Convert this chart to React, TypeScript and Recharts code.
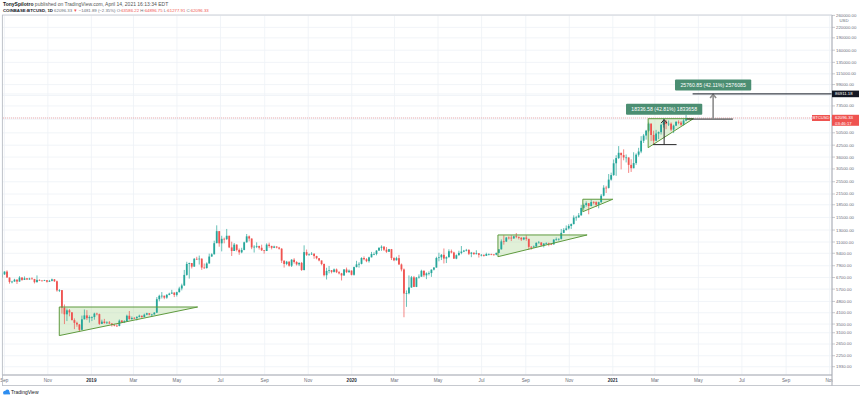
import React from 'react';
import { ComposedChart, Bar, Area, XAxis, YAxis, CartesianGrid, ReferenceLine, ReferenceDot } from 'recharts';

const DAY = 86400000;
const START = Date.UTC(2018, 7, 27);
const PERIOD_DAYS = 3.5;
const FIRST_OPEN = 6700;

// half-week candles: [high, low, close]; open = previous close
const candles2018 = [
  [7130, 6700, 7000], [7300, 6950, 7280],
  [7410, 6680, 6700], [6560, 6150, 6300],
  [6400, 6180, 6330], [6580, 6380, 6500],
  [6540, 6120, 6330], [6830, 6320, 6700],
  [6720, 6400, 6480], [6800, 6470, 6630],
  [6640, 6470, 6520], [6680, 6490, 6610],
  [6720, 6520, 6560], [6580, 6170, 6280],
  [6900, 6250, 6480], [6530, 6380, 6420],
  [6460, 6370, 6410], [6490, 6380, 6450],
  [6460, 6240, 6320], [6480, 6300, 6400],
  [6600, 6350, 6530], [6560, 6300, 6360],
  [6420, 5500, 5600], [5700, 5470, 5620],
  [5620, 4050, 4400], [4600, 3500, 4010],
  [4350, 3650, 4240], [4320, 3900, 4120],
  [4140, 3680, 3700], [3790, 3260, 3560],
  [3620, 3370, 3480], [3500, 3150, 3230],
  [3940, 3220, 3740], [4290, 3760, 3950],
  [4250, 3700, 3800], [3950, 3570, 3860],
  [3900, 3650, 3860], [4100, 3720, 4050],
];
const candles2019 = [
  [4100, 3950, 4020], [4050, 3460, 3510],
  [3720, 3500, 3620], [3760, 3520, 3550],
  [3640, 3500, 3580], [3650, 3500, 3530],
  [3540, 3380, 3450], [3510, 3390, 3420],
  [3490, 3370, 3410], [3730, 3390, 3670],
  [3700, 3550, 3590], [3690, 3550, 3640],
  [3990, 3640, 3930], [4200, 3720, 3750],
  [3890, 3720, 3810], [3860, 3760, 3800],
  [3900, 3680, 3870], [3990, 3840, 3930],
  [3940, 3820, 3860], [4050, 3850, 3990],
  [4100, 3960, 4070], [4070, 3950, 3990],
  [4040, 3860, 4000], [4140, 4000, 4100],
  [5100, 4100, 4950], [5270, 4810, 5190],
  [5470, 5000, 5200], [5200, 4950, 5060],
  [5320, 4980, 5260], [5420, 5230, 5350],
  [5640, 5350, 5430], [5450, 5100, 5260],
  [5500, 5140, 5460], [5890, 5440, 5750],
  [6150, 5600, 6000], [7450, 5950, 6950],
  [8350, 6870, 8100], [8250, 6600, 8200],
  [8100, 7600, 7800], [8800, 7850, 8700],
  [8950, 8550, 8670], [9100, 8030, 8720],
  [8750, 7460, 7700], [8150, 7570, 7650],
  [8280, 7580, 8150], [9350, 8180, 8980],
  [9400, 8950, 9260], [11200, 9500, 10820],
  [13880, 10900, 12800], [12500, 10300, 10800],
  [12000, 9650, 11500], [11700, 10800, 11450],
  [13200, 11300, 12000], [11950, 10100, 10200],
  [11050, 9050, 9700], [10850, 9800, 10600],
  [10650, 9650, 9850], [10050, 9200, 9520],
  [10150, 9400, 9850], [11050, 9800, 10950],
  [12300, 10900, 11900], [12050, 11100, 11550],
  [11550, 9950, 10200], [10520, 9500, 10300],
  [10950, 10100, 10400], [10450, 9900, 10150],
  [10600, 9700, 9800], [9800, 9350, 9700],
  [10800, 9750, 10600], [10900, 10150, 10400],
  [10450, 9920, 10150], [10450, 10100, 10330],
  [10360, 10070, 10180], [10280, 9900, 10020],
  [10100, 8200, 8480], [8500, 7700, 8100],
  [8450, 7960, 8360], [8400, 7800, 7900],
  [8660, 7760, 8590], [8780, 8140, 8320],
  [8420, 7920, 8050], [8280, 7860, 8220],
  [8330, 7350, 7440], [10500, 7400, 9550],
  [9900, 9050, 9200], [9380, 9080, 9250],
  [9550, 9180, 9340], [9400, 8700, 9040],
  [9080, 8640, 8770], [8780, 8400, 8500],
  [8500, 7950, 8090], [8150, 6800, 6920],
  [7680, 6520, 7350], [7870, 7100, 7420],
  [7430, 7100, 7250], [7600, 7180, 7500],
  [7600, 7130, 7220], [7330, 7000, 7100],
  [7150, 6430, 6900], [7530, 6850, 7500],
  [7700, 7130, 7220], [7500, 7150, 7380],
  [7400, 6900, 6960], [7800, 6880, 7750],
];
const candles2020 = [
  [8460, 7720, 8050], [8290, 7690, 8110],
  [8890, 8050, 8800], [9000, 8520, 8650],
  [8780, 8300, 8420], [8960, 8250, 8880],
  [9580, 8880, 9300], [9520, 9150, 9300],
  [9800, 9130, 9760], [10200, 9720, 10150],
  [10500, 9730, 10300], [10400, 9700, 9880],
  [10250, 9450, 9600], [9990, 9570, 9950],
  [9980, 8550, 8790], [8900, 8420, 8520],
  [8950, 8500, 8780], [9190, 8000, 8040],
  [8150, 7300, 7500], [7600, 3850, 5360],
  [5600, 4450, 5380], [6900, 5300, 5830],
  [6850, 5800, 6720], [6850, 5860, 5880],
  [6750, 5860, 6700], [7000, 6600, 6780],
  [7470, 6780, 7360], [7400, 6750, 6910],
  [7200, 6550, 7100], [7300, 6900, 7130],
  [7500, 6760, 7480], [7750, 7400, 7700],
  [8950, 7700, 8800], [9470, 8400, 8880],
  [9300, 8550, 9200], [10050, 8150, 8730],
  [9000, 8200, 8900], [9930, 8850, 9670],
  [9900, 9380, 9500], [9600, 8700, 8720],
  [9250, 8650, 9150], [9740, 9100, 9450],
  [10400, 9270, 9620], [9850, 9550, 9750],
  [9990, 9650, 9850], [9950, 9170, 9330],
  [9580, 8900, 9480], [9480, 9200, 9290],
  [9800, 9250, 9400], [9420, 8850, 9190],
  [9300, 9000, 9200], [9220, 8970, 9070],
  [9470, 9050, 9300], [9380, 9120, 9300],
  [9350, 9150, 9250], [9280, 9080, 9210],
  [9480, 9130, 9450], [9960, 9420, 9930],
  [11400, 9900, 11100], [12100, 10600, 11070],
  [11800, 11000, 11700], [11900, 11400, 11690],
  [12080, 11150, 11560], [12000, 11500, 11910],
  [12470, 11600, 11800], [11900, 11400, 11660],
  [11800, 11150, 11400], [11730, 11280, 11710],
  [12090, 11200, 11500], [11500, 9900, 10280],
  [10400, 9880, 10200], [10480, 10150, 10330],
  [10950, 10280, 10870], [11160, 10800, 10920],
  [10990, 10370, 10500], [10800, 10200, 10770],
  [10950, 10640, 10800], [10900, 10370, 10670],
  [10800, 10530, 10650], [11440, 10600, 11370],
  [11720, 11200, 11420], [11560, 11220, 11500],
  [13200, 11400, 12500], [13350, 12450, 13030],
  [13860, 12900, 13300], [14100, 13100, 13760],
  [14250, 13200, 14130], [15960, 14050, 15470],
  [15850, 14800, 15500], [16480, 15450, 15960],
  [18480, 15900, 17700], [18800, 17300, 18420],
  [19400, 18000, 18900], [18900, 16200, 18180],
  [19860, 18100, 19200], [19450, 18600, 19180],
  [19400, 17900, 18500], [19300, 17600, 19170],
  [21500, 19000, 21000], [24300, 20800, 23480],
  [24100, 21800, 23400], [28400, 23200, 26280],
  [28950, 25900, 28000], [34800, 27700, 33000],
];
const candles2021 = [
  [36950, 27700, 35500], [41950, 35000, 38200],
  [38000, 30300, 37000], [40100, 34400, 35800],
  [37300, 33400, 35800], [35800, 28850, 32280],
  [34900, 29250, 30800], [38500, 30800, 33100],
  [37900, 32300, 37200], [40950, 36200, 38900],
  [48200, 38000, 45200], [49700, 43800, 48600],
  [52600, 45900, 52000], [58350, 50900, 57400],
  [57500, 45000, 49000], [52000, 43000, 45200],
  [52600, 45000, 50000], [51450, 46300, 50970],
  [57400, 49300, 56500], [61800, 54300, 59000],
  [60600, 53100, 57200], [60000, 55500, 57350],
  [58400, 51700, 52800], [56600, 50300, 55800],
  [59500, 55500, 58800], [60100, 56900, 58200],
  [59500, 55500, 56500], [61200, 55900, 59900],
  [64900, 59400, 62096.33],
];

const LAST_PRICE = 62096.33;
const TARGET_PRICE = 86911.18;

const Y_TICKS = [1930, 2250, 2650, 3100, 3500, 4100, 4800, 5700, 6700, 7900, 9400, 11000, 13000, 15500, 18500, 21500, 25500, 30500, 36000, 42500, 50500, 61000, 73500, 85000, 99000, 115000, 135000, 160000, 190000, 220000, 260000];
const Y_DOMAIN = [1719, 261400];

const X_TICK_DATES = ['2018-09-01', '2018-11-01', '2019-01-01', '2019-03-01', '2019-05-01', '2019-07-01', '2019-09-01', '2019-11-01', '2020-01-01', '2020-03-01', '2020-05-01', '2020-07-01', '2020-09-01', '2020-11-01', '2021-01-01', '2021-03-01', '2021-05-01', '2021-07-01', '2021-09-01', '2021-11-01'];
const MONTHS = ['Jan', 'Feb', 'Mar', 'Apr', 'May', 'Jun', 'Jul', 'Aug', 'Sep', 'Oct', 'Nov', 'Dec'];
const X_DOMAIN_DATES = ['2018-08-28T17:00', '2021-11-04T08:00'];

const TRIANGLES = [
  { from: '2018-11-17', to: '2019-05-30', low: 2980, high: 4440 },
  { from: '2020-07-24', to: '2020-11-26', low: 8960, high: 12135 },
  { from: '2020-11-20', to: '2021-01-01', low: 16790, high: 19980 },
  { from: '2021-02-19T14:00', to: '2021-04-24', low: 41030, high: 61500 },
];

const MEASURES = [
  { at: '2021-03-14', baseFrom: '2021-02-26T14:00', baseTo: '2021-03-31T10:00', from: 42830, to: 61166, text: '18336.58 (42.81%) 1833658', labelPrice: 70100, color: '#2a2a2a', width: 1 },
  { at: '2021-05-21T16:00', baseFrom: '2021-04-14T19:00', baseTo: '2021-06-18T10:00', from: 61150, to: TARGET_PRICE, text: '25760.85 (42.11%) 2576085', labelPrice: 98500, color: '#8c8c8c', width: 1.6 },
];
const TARGET_RAY_FROM = '2021-04-22T22:00';

const UP = '#26a69a';
const DOWN = '#ef5350';
const TRI_STROKE = '#5e9a3e';
const FONT = 'Liberation Sans, Arial, sans-serif';

const d = (s: string) => Date.parse(s.length === 10 ? s + 'T00:00:00Z' : s + ':00Z');

const candleData = (() => {
  const rows = [...candles2018, ...candles2019, ...candles2020, ...candles2021];
  let prev = FIRST_OPEN;
  return rows.map(([h, l, c], i) => {
    const o = prev;
    prev = c;
    const hi = Math.max(h, o, c);
    const lo = Math.min(l, o, c);
    return { t: START + (i * PERIOD_DAYS + PERIOD_DAYS / 2) * DAY, o, h: hi, l: lo, c, range: [lo, hi] };
  });
})();

const CandleShape = (props: any) => {
  let { x, y, width, height } = props;
  const p = props.payload;
  if (!p || height == null) return null;
  if (height < 0) { y += height; height = -height; }
  const lh = Math.log(p.h), ll = Math.log(p.l);
  const span = lh - ll || 1;
  const py = (v: number) => y + ((lh - Math.log(v)) / span) * height;
  const up = p.c >= p.o;
  const color = up ? UP : DOWN;
  const cx = x + width / 2;
  const top = py(Math.max(p.o, p.c));
  const bot = py(Math.min(p.o, p.c));
  return (
    <g>
      <line x1={cx} x2={cx} y1={y} y2={y + height} stroke={color} strokeWidth={0.7} />
      <rect x={cx - 0.9} y={top} width={1.8} height={Math.max(0.7, bot - top)} fill={color} />
    </g>
  );
};

const makeArrow = (color: string, w: number) => (p: any) => {
  const { x1, y1, y2 } = p;
  const tipY = Math.min(y1, y2);
  const baseY = Math.max(y1, y2);
  return (
    <g>
      <line x1={x1} y1={baseY} x2={x1} y2={tipY + 0.5} stroke={color} strokeWidth={w} />
      <polyline points={`${x1 - 3},${tipY + 4} ${x1},${tipY + 0.5} ${x1 + 3},${tipY + 4}`} fill="none" stroke={color} strokeWidth={w} />
    </g>
  );
};

const makeBox = (text: string) => (p: any) => {
  const { cx, cy } = p;
  const w = text.length * 2.85 + 5;
  const h = 11;
  return (
    <g>
      <rect x={cx - w / 2} y={cy - h / 2} width={w} height={h} rx={1} fill="#4b8e72" />
      <text x={cx} y={cy + 1.8} textAnchor="middle" fontSize={5.2} fill="#fff" fontFamily={FONT}>{text}</text>
    </g>
  );
};

const XTick = (p: any) => {
  const dt = new Date(p.payload.value);
  const m = dt.getUTCMonth();
  const isYear = m === 0;
  const label = isYear ? String(dt.getUTCFullYear()) : MONTHS[m];
  return (
    <text x={p.x} y={p.y + 6.7} textAnchor="middle" fontSize={4.6} fontFamily={FONT} fill={isYear ? '#2a2e39' : '#6a6d78'} fontWeight={isYear ? 700 : 400}>{label}</text>
  );
};

const YTick = (p: any) => {
  const { x, y } = p;
  const v = p.payload.value;
  if (v === LAST_PRICE) {
    return (
      <g>
        <rect x={x - 24} y={y - 3} width={18} height={6} fill={DOWN} />
        <text x={x - 15} y={y + 1.5} textAnchor="middle" fontSize={4.2} fill="#fff" fontFamily={FONT}>BTCUSD</text>
        <rect x={x - 4} y={y - 3.2} width={27} height={11} fill={DOWN} />
        <text x={x - 1} y={y + 1.5} fontSize={4.3} fill="#fff" fontFamily={FONT}>{v.toFixed(2)}</text>
        <text x={x - 1} y={y + 6.6} fontSize={4.3} fill="#fff" fontFamily={FONT}>03:46:17</text>
      </g>
    );
  }
  if (v === TARGET_PRICE) {
    return (
      <g>
        <rect x={x - 4} y={y - 3.3} width={27} height={6.6} fill="#131722" />
        <text x={x - 1} y={y + 1.5} fontSize={4.3} fill="#fff" fontFamily={FONT}>{v.toFixed(2)}</text>
      </g>
    );
  }
  return (
    <g>
      <text x={x} y={y + 1.5} fontSize={4.3} fill="#6a6d78" fontFamily={FONT}>{v.toFixed(2)}</text>
      {v === Y_TICKS[Y_TICKS.length - 1] ? (
        <text x={x + 8} y={y + 6.5} textAnchor="middle" fontSize={4.3} fill="#6a6d78" fontFamily={FONT}>USD</text>
      ) : null}
    </g>
  );
};

export default function App() {
  const xDomain = X_DOMAIN_DATES.map(d);
  const xTicks = X_TICK_DATES.map(d);
  const yTicks = [...Y_TICKS, LAST_PRICE, TARGET_PRICE];
  return (
    <div style={{ position: 'absolute', left: 0, top: 0, width: 860, height: 398, background: '#fff', overflow: 'hidden' }}>
      <ComposedChart width={860} height={398} data={candleData} margin={{ top: 15, right: 2, bottom: 13, left: 2 }}>
        <CartesianGrid stroke="#eef1f6" strokeWidth={0.8} />
        <XAxis
          dataKey="t"
          type="number"
          scale="time"
          domain={xDomain}
          allowDataOverflow
          ticks={xTicks}
          tick={<XTick />}
          tickLine={false}
          tickSize={0}
          tickMargin={0}
          height={10}
          axisLine={{ stroke: '#a3a6af', strokeWidth: 1 }}
          interval={0}
        />
        <YAxis
          yAxisId={0}
          orientation="right"
          scale="log"
          domain={Y_DOMAIN}
          allowDataOverflow
          ticks={yTicks}
          interval={0}
          width={26}
          tickSize={3}
          tickMargin={1}
          tick={<YTick />}
          tickLine={{ stroke: '#a3a6af', strokeWidth: 0.6 }}
          axisLine={{ stroke: '#a3a6af', strokeWidth: 1 }}
        />
        {TRIANGLES.map((tr, i) => (
          <Area
            key={'tri' + i}
            data={[{ t: d(tr.from), v: [tr.low, tr.high] }, { t: d(tr.to), v: [tr.high, tr.high] }]}
            dataKey="v"
            type="linear"
            stroke="none"
            fill="#a9d48e"
            fillOpacity={0.35}
            isAnimationActive={false}
            dot={false}
            activeDot={false}
          />
        ))}
        <ReferenceLine y={LAST_PRICE} stroke={DOWN} strokeOpacity={0.55} strokeWidth={0.8} strokeDasharray="1 1" />
        <Bar dataKey="range" barSize={2} shape={<CandleShape />} isAnimationActive={false} />
        {TRIANGLES.map((tr, i) => (
          <React.Fragment key={'edges' + i}>
            <ReferenceLine segment={[{ x: d(tr.from), y: tr.low }, { x: d(tr.from), y: tr.high }]} stroke={TRI_STROKE} strokeWidth={1} ifOverflow="visible" />
            <ReferenceLine segment={[{ x: d(tr.from), y: tr.high }, { x: d(tr.to), y: tr.high }]} stroke={TRI_STROKE} strokeWidth={1} ifOverflow="visible" />
            <ReferenceLine segment={[{ x: d(tr.from), y: tr.low }, { x: d(tr.to), y: tr.high }]} stroke={TRI_STROKE} strokeWidth={1} ifOverflow="visible" />
          </React.Fragment>
        ))}
        {MEASURES.map((m, i) => (
          <React.Fragment key={'m' + i}>
            <ReferenceLine segment={[{ x: d(m.baseFrom), y: m.from }, { x: d(m.baseTo), y: m.from }]} stroke="#2a2a2a" strokeWidth={1} ifOverflow="visible" />
            <ReferenceLine segment={[{ x: d(m.at), y: m.from }, { x: d(m.at), y: m.to }]} stroke={m.color} shape={makeArrow(m.color, m.width)} ifOverflow="visible" />
            <ReferenceDot x={d(m.at)} y={m.labelPrice} r={1} shape={makeBox(m.text)} ifOverflow="visible" />
          </React.Fragment>
        ))}
        <ReferenceLine segment={[{ x: d(TARGET_RAY_FROM), y: TARGET_PRICE }, { x: xDomain[1], y: TARGET_PRICE }]} stroke="#131722" strokeWidth={1} ifOverflow="visible" />
      </ComposedChart>
      <svg width={860} height={398} style={{ position: 'absolute', left: 0, top: 0, pointerEvents: 'none' }}>
        <line x1={2} y1={15} x2={832} y2={15} stroke="#c9ccd3" strokeWidth={0.8} />
        <line x1={2.5} y1={15} x2={2.5} y2={386} stroke="#b8bbc3" strokeWidth={0.8} />
        <rect x={832.5} y={375.5} width={27} height={9.5} fill="#fff" />
        <line x1={832} y1={375} x2={832} y2={386} stroke="#a3a6af" strokeWidth={1} />
        <line x1={2} y1={385.5} x2={860} y2={385.5} stroke="#b8bbc3" strokeWidth={0.8} />
        <text x={3} y={5.6} fontSize={5} fontFamily={FONT} fill="#555">
          <tspan fontWeight={700} fill="#131722">TonySpilotro</tspan>
          <tspan> published on TradingView.com, April 14, 2021 16:13:34 EDT</tspan>
        </text>
        <text x={3} y={11.6} fontSize={4.3} fontFamily={FONT} fill="#6a6d78">
          <tspan fill="#131722" fontWeight={700}>COINBASE:BTCUSD, 1D</tspan>
          <tspan> 62096.33 </tspan>
          <tspan fill={DOWN}>▼</tspan>
          <tspan> −1481.89 (−2.35%) O:</tspan>
          <tspan fill={DOWN}>63586.22</tspan>
          <tspan> H:</tspan>
          <tspan fill={DOWN}>64896.75</tspan>
          <tspan> L:</tspan>
          <tspan fill={DOWN}>61277.91</tspan>
          <tspan> C:</tspan>
          <tspan fill={DOWN}>62096.33</tspan>
        </text>
        <g>
          <circle cx={5} cy={392.5} r={1.8} fill="#2e8ef0" />
          <circle cx={7.3} cy={391.6} r={2.1} fill="#2e8ef0" />
          <rect x={3.4} y={392.4} width={6.6} height={2} fill="#2e8ef0" />
        </g>
        <text x={11} y={394} fontSize={5} fontFamily={FONT} fill="#131722">TradingView</text>
      </svg>
    </div>
  );
}
